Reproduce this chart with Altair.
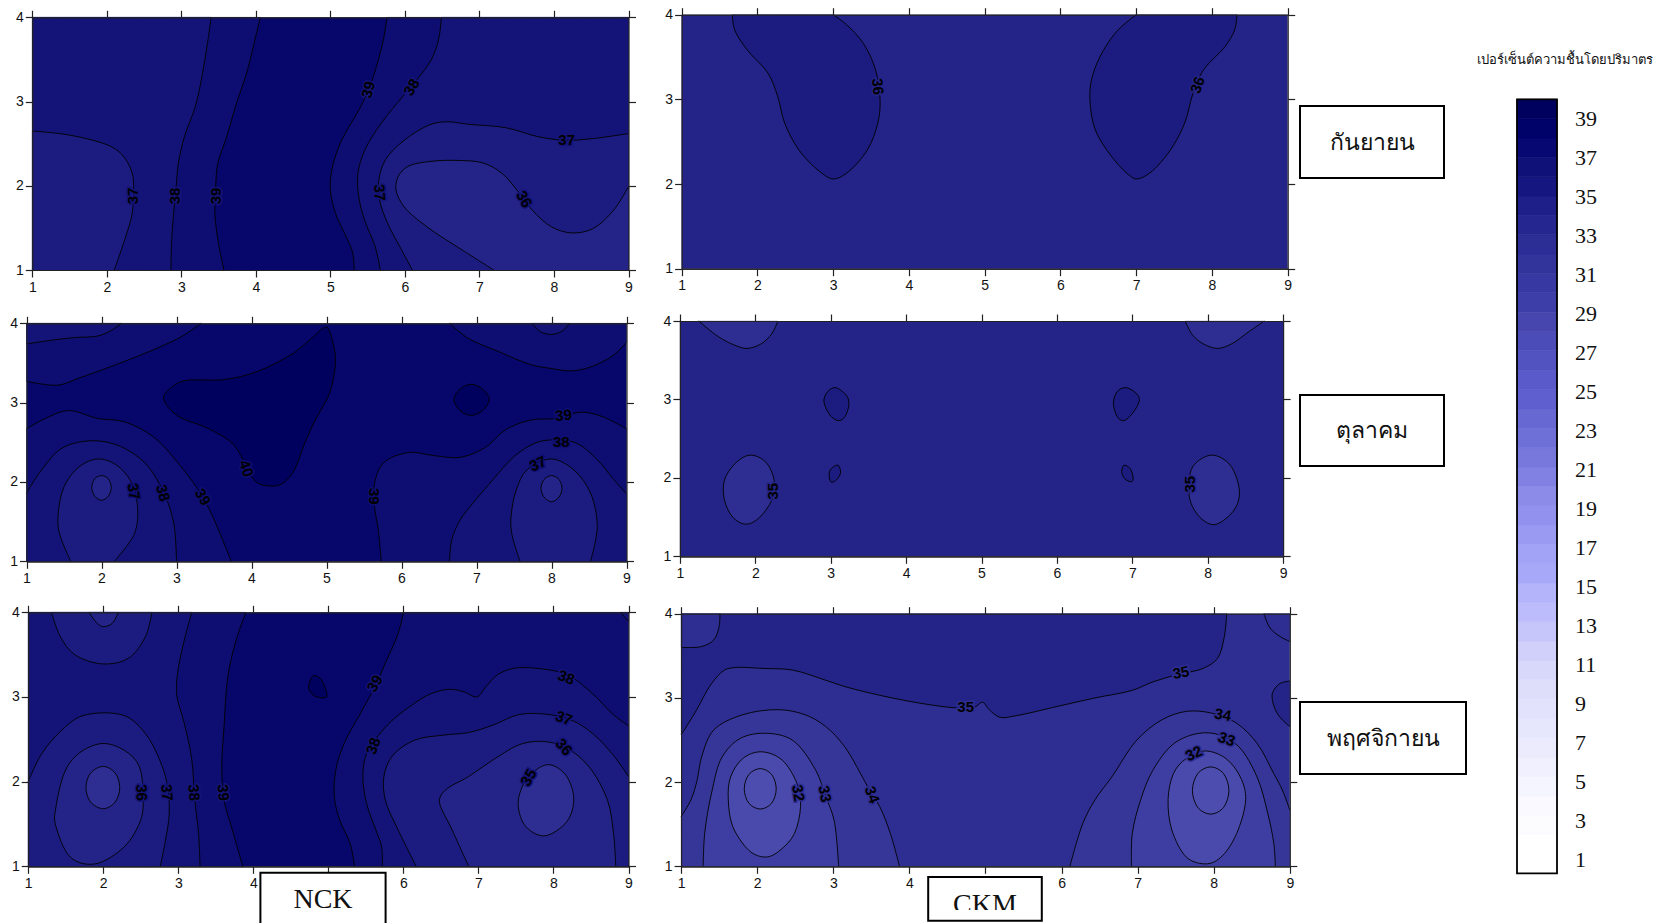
import altair as alt
import pandas as pd

W, H = 1645, 911
OX, OY = 8, 12  # page margin, plus 4px of top padding

# level colours
C40, C39, C38, C37, C36, C35, C34, C33, C32, C31 = (
    "#00005f", "#06066b", "#0e0e72", "#141478", "#1b1b80",
    "#242488", "#2d2d92", "#363699", "#3e3ea2", "#4a4aac")

X_TICKS = [1, 2, 3, 4, 5, 6, 7, 8, 9]
Y_TICKS = [1, 2, 3, 4]

# panel frames in page pixels: left, right, top, bottom
FRAMES = [(32.3, 628.5, 17.3, 270), (26.5, 626.5, 323.3, 561.3), (28.2, 628.5, 612.3, 866.3),
          (681.6, 1287.7, 14.7, 268.7), (679.9, 1283.1, 321, 556.3), (681.1, 1289.8, 613.7, 866.3)]
BASES = [C39, C39, C39, C35, C35, C34]

# region = (colour, corners that close it, contour points); corners "closed" = ring
P1 = [
 (C38, [(1, 1), (1, 4)], [(4.06, 4), (3.97, 3.67), (3.88, 3.35), (3.74, 2.98), (3.6, 2.56), (3.49, 2.27), (3.46, 1.99), (3.45, 1.67), (3.49, 1.36), (3.57, 1)]),
 (C37, [(1, 1), (1, 4)], [(3.4, 4), (3.35, 3.69), (3.26, 3.22), (3.18, 2.92), (3.04, 2.58), (2.96, 2.27), (2.93, 1.99), (2.9, 1.71), (2.87, 1.36), (2.86, 1)]),
 (C36, [(1, 1)], [(1, 2.65), (1.51, 2.6), (2.07, 2.46), (2.24, 2.33), (2.34, 2.15), (2.36, 1.99), (2.34, 1.67), (2.24, 1.36), (2.1, 1)]),
 (C38, [(9, 1), (9, 4)], [(5.76, 4), (5.71, 3.73), (5.57, 3.28), (5.43, 2.98), (5.13, 2.5), (5.02, 2.19), (5, 1.95), (5.07, 1.67), (5.23, 1.36), (5.3, 1.2), (5.32, 1)]),
 (C37, [(9, 1), (9, 4)], [(6.49, 4), (6.45, 3.73), (6.35, 3.49), (6.16, 3.26), (5.99, 3.08), (5.68, 2.74), (5.46, 2.42), (5.37, 2.15), (5.38, 1.87), (5.46, 1.59), (5.6, 1.28), (5.67, 1)]),
 (C36, [(9, 1)], [(9, 2.62), (8.52, 2.56), (8.16, 2.54), (7.8, 2.58), (7.35, 2.69), (6.85, 2.73), (6.57, 2.76), (6.35, 2.73), (5.99, 2.54), (5.74, 2.31), (5.65, 2.07), (5.66, 1.83), (5.77, 1.55), (5.93, 1.28), (6.1, 1)]),
 (C35, [(9, 1)], [(7.19, 1), (6.8, 1.22), (6.3, 1.51), (5.99, 1.75), (5.88, 1.95), (5.91, 2.11), (6.04, 2.23), (6.35, 2.29), (6.74, 2.3), (7.05, 2.27), (7.3, 2.15), (7.52, 1.93), (7.71, 1.71), (7.97, 1.51), (8.24, 1.44), (8.52, 1.49), (8.8, 1.71), (9, 1.99)]),
]
P2 = [
 (C38, [(1, 4)], [(1, 3.27), (1.42, 3.22), (1.7, 3.31), (2.14, 3.46), (2.75, 3.69), (3.08, 3.84), (3.33, 4)]),
 (C37, [(1, 4)], [(1, 3.74), (1.36, 3.79), (1.64, 3.82), (1.95, 3.84), (2.11, 3.9), (2.27, 4)]),
 (C38, [(9, 4)], [(6.64, 4), (6.89, 3.81), (7.28, 3.65), (7.72, 3.48), (8, 3.43), (8.27, 3.4), (8.55, 3.46), (8.83, 3.6), (9, 3.76)]),
 (C37, [], [(7.74, 4), (7.86, 3.89), (8, 3.86), (8.14, 3.9), (8.24, 4)]),
 (C38, [(1, 1)], [(1, 2.67), (1.25, 2.8), (1.56, 2.9), (1.95, 2.8), (2.3, 2.76), (2.69, 2.57), (3.02, 2.24), (3.29, 1.9), (3.44, 1.65), (3.58, 1.35), (3.73, 1)]),
 (C37, [(1, 1)], [(1, 1.86), (1.2, 2.15), (1.48, 2.43), (1.89, 2.52), (2.25, 2.45), (2.58, 2.24), (2.77, 1.98), (2.89, 1.73), (2.97, 1.44), (3, 1)]),
 (C36, [], [(1.59, 1), (1.44, 1.35), (1.42, 1.56), (1.5, 1.94), (1.7, 2.19), (1.95, 2.29), (2.19, 2.22), (2.39, 2.01), (2.48, 1.69), (2.44, 1.35), (2.17, 1)]),
 (C35, "closed", [(2, 2.08), (2.09, 2.04), (2.13, 1.93), (2.09, 1.82), (2, 1.77), (1.91, 1.82), (1.87, 1.93), (1.91, 2.04)]),
 (C38, [(9, 1)], [(5.73, 1), (5.69, 1.4), (5.64, 1.69), (5.64, 1.98), (5.76, 2.24), (6.09, 2.37), (6.45, 2.33), (6.78, 2.31), (7.11, 2.43), (7.39, 2.66), (7.72, 2.78), (8.05, 2.8), (8.39, 2.88), (8.66, 2.83), (9, 2.67)]),
 (C37, [(9, 1)], [(6.64, 1), (6.67, 1.27), (6.78, 1.52), (6.95, 1.73), (7.22, 2.03), (7.5, 2.32), (7.78, 2.49), (8, 2.53), (8.33, 2.49), (8.61, 2.28), (8.83, 2.03), (9, 1.85)]),
 (C36, [], [(7.58, 1), (7.47, 1.35), (7.46, 1.56), (7.53, 1.9), (7.67, 2.15), (8, 2.29), (8.3, 2.15), (8.52, 1.86), (8.61, 1.44), (8.52, 1)]),
 (C35, "closed", [(8, 2.08), (8.1, 2.03), (8.14, 1.92), (8.1, 1.81), (8, 1.75), (7.9, 1.81), (7.86, 1.92), (7.9, 2.03)]),
 (C40, "closed", [(4.96, 3.94), (5.04, 3.9), (5.12, 3.54), (5.04, 3.12), (4.85, 2.78), (4.71, 2.49), (4.57, 2.15), (4.41, 1.98), (4.24, 1.95), (4.05, 2.01), (3.91, 2.24), (3.74, 2.49), (3.41, 2.68), (3.02, 2.83), (2.83, 3.04), (2.92, 3.18), (3.13, 3.28), (3.63, 3.29), (4.07, 3.39), (4.52, 3.6), (4.8, 3.81)]),
 (C40, "closed", [(6.93, 3.23), (7.08, 3.17), (7.17, 3.04), (7.08, 2.9), (6.93, 2.84), (6.78, 2.9), (6.7, 3.04), (6.78, 3.17)]),
]
P3 = [
 (C38, [(1, 1), (1, 4)], [(3.9, 4), (3.77, 3.67), (3.66, 3.24), (3.61, 2.65), (3.58, 2.18), (3.61, 1.78), (3.72, 1.43), (3.86, 1)]),
 (C37, [(1, 1), (1, 4)], [(3.18, 4), (3.08, 3.67), (2.99, 3.28), (2.98, 3.02), (3.08, 2.69), (3.18, 2.26), (3.22, 1.78), (3.27, 1.39), (3.29, 1)]),
 (C36, [(1, 1)], [(1, 2), (1.18, 2.33), (1.45, 2.61), (1.73, 2.78), (2.28, 2.78), (2.56, 2.57), (2.75, 2.26), (2.85, 1.98), (2.88, 1.63), (2.83, 1.31), (2.76, 1)]),
 (C36, [], [(1.31, 4), (1.43, 3.71), (1.62, 3.5), (2, 3.39), (2.34, 3.46), (2.56, 3.71), (2.65, 4)]),
 (C35, [], [(1.81, 4), (1.92, 3.87), (2, 3.83), (2.12, 3.87), (2.2, 4)]),
 (C35, "closed", [(1.98, 2.45), (2.28, 2.37), (2.48, 2.18), (2.53, 1.86), (2.5, 1.55), (2.28, 1.23), (1.9, 1.03), (1.56, 1.11), (1.37, 1.47), (1.37, 1.7), (1.48, 2.1), (1.67, 2.33)]),
 (C34, "closed", [(2, 2.18), (2.16, 2.1), (2.22, 1.93), (2.16, 1.76), (2, 1.68), (1.83, 1.76), (1.77, 1.93), (1.83, 2.1)]),
 (C40, "closed", [(4.8, 3.25), (4.91, 3.2), (4.98, 3.01), (4.85, 3), (4.76, 3.06), (4.74, 3.14)]),
 (C38, [(9, 1), (9, 4)], [(6, 4), (5.93, 3.75), (5.76, 3.4), (5.62, 3.12), (5.43, 2.81), (5.21, 2.45), (5.1, 2.14), (5.08, 1.82), (5.15, 1.55), (5.29, 1.27), (5.35, 1)]),
 (C37, [(9, 1)], [(9, 2.66), (8.8, 2.79), (8.52, 3.04), (8.19, 3.26), (7.86, 3.33), (7.48, 3.34), (7.25, 3.26), (7.09, 3.11), (6.98, 3), (6.81, 3.06), (6.62, 3.09), (6.37, 3.04), (6.09, 2.89), (5.79, 2.67), (5.51, 2.33), (5.46, 2.06), (5.51, 1.74), (5.65, 1.39), (5.71, 1.23), (5.72, 1)]),
 (C36, [(9, 1)], [(6.17, 1), (5.93, 1.43), (5.76, 1.78), (5.74, 2.06), (5.85, 2.3), (6.15, 2.49), (6.54, 2.55), (6.87, 2.58), (7.2, 2.67), (7.53, 2.79), (7.86, 2.8), (8.23, 2.73), (8.52, 2.57), (8.8, 2.31), (9, 2.06)]),
 (C35, [], [(6.87, 1), (6.65, 1.43), (6.48, 1.78), (6.56, 1.9), (6.87, 2.06), (7.2, 2.26), (7.59, 2.45), (7.92, 2.47), (8.19, 2.39), (8.47, 2.18), (8.72, 1.78), (8.8, 1.39), (8.83, 1)]),
 (C34, "closed", [(7.95, 2.2), (8.17, 2.07), (8.27, 1.8), (8.18, 1.53), (7.89, 1.36), (7.63, 1.47), (7.53, 1.72), (7.59, 1.95), (7.74, 2.12)]),
 (C37, [(9, 4)], [(8.9, 4), (8.95, 3.94), (9, 3.9)]),
]
P4 = [
 (C36, [], [(1.67, 4), (1.7, 3.82), (1.87, 3.58), (2.14, 3.31), (2.27, 3.03), (2.36, 2.72), (2.55, 2.4), (2.82, 2.15), (3, 2.06), (3.18, 2.13), (3.45, 2.4), (3.59, 2.72), (3.62, 2.99), (3.56, 3.35), (3.4, 3.66), (3.18, 3.88), (3, 4)]),
 (C36, [], [(7, 4), (6.74, 3.8), (6.52, 3.5), (6.41, 3.23), (6.39, 2.99), (6.46, 2.64), (6.68, 2.32), (6.9, 2.11), (7, 2.06), (7.18, 2.13), (7.45, 2.4), (7.64, 2.72), (7.75, 3.07), (7.89, 3.35), (8.17, 3.62), (8.3, 3.82), (8.33, 4)]),
]
P5 = [
 (C34, [], [(1.25, 4), (1.51, 3.8), (1.73, 3.69), (1.89, 3.65), (2.08, 3.71), (2.22, 3.84), (2.3, 4)]),
 (C34, [], [(7.7, 4), (7.8, 3.82), (7.94, 3.71), (8.13, 3.65), (8.32, 3.71), (8.54, 3.86), (8.75, 4)]),
 (C34, "closed", [(1.93, 2.29), (2.14, 2.2), (2.25, 1.97), (2.22, 1.72), (2.06, 1.5), (1.88, 1.41), (1.7, 1.5), (1.59, 1.72), (1.59, 1.97), (1.73, 2.18)]),
 (C34, "closed", [(8.05, 2.29), (8.3, 2.16), (8.42, 1.84), (8.35, 1.59), (8.12, 1.41), (7.94, 1.46), (7.8, 1.63), (7.75, 1.84), (7.8, 2.14)]),
 (C36, "closed", [(3.07, 3.15), (3.21, 3.05), (3.24, 2.93), (3.19, 2.78), (3.1, 2.73), (2.99, 2.8), (2.91, 2.97), (2.96, 3.1)]),
 (C36, "closed", [(6.92, 3.15), (7.06, 3.07), (7.09, 2.97), (7, 2.82), (6.89, 2.73), (6.8, 2.78), (6.75, 2.95), (6.8, 3.1)]),
 (C36, "closed", [(3.1, 2.16), (3.13, 2.06), (3.07, 1.97), (3, 1.95), (2.98, 2.06), (3.02, 2.13)]),
 (C36, "closed", [(6.89, 2.16), (6.97, 2.12), (7.01, 2.01), (6.99, 1.95), (6.9, 1.99), (6.86, 2.08)]),
]
P6 = [
 (C35, [(1, 4)], [(1, 2.56), (1.18, 2.82), (1.4, 3.17), (1.57, 3.33), (1.7, 3.36), (2.08, 3.35), (2.47, 3.33), (2.9, 3.21), (3.17, 3.13), (3.72, 3.01), (4.26, 2.92), (4.65, 2.88), (4.86, 2.89), (4.96, 2.95), (5.05, 2.86), (5.19, 2.77), (5.41, 2.79), (5.95, 2.9), (6.44, 3), (6.93, 3.09), (7.2, 3.19), (7.53, 3.28), (7.86, 3.35), (8.05, 3.47), (8.14, 3.73), (8.17, 4)]),
 (C34, [(1, 4)], [(1, 3.6), (1.27, 3.61), (1.43, 3.69), (1.5, 3.85), (1.51, 4)]),
 (C34, [(9, 4)], [(8.66, 4), (8.74, 3.83), (8.87, 3.73), (9, 3.67)]),
 (C35, [], [(9, 3.2), (8.87, 3.17), (8.77, 3.05), (8.81, 2.86), (8.89, 2.75), (9, 2.66)]),
 (C33, [(1, 1)], [(1, 1.59), (1.13, 1.79), (1.21, 2.02), (1.27, 2.3), (1.43, 2.62), (1.81, 2.8), (2.28, 2.86), (2.63, 2.8), (2.9, 2.66), (3.15, 2.42), (3.45, 1.95), (3.61, 1.71), (3.75, 1.39), (3.87, 1)]),
 (C32, [], [(1.29, 1), (1.31, 1.39), (1.4, 1.87), (1.54, 2.3), (1.78, 2.52), (2.11, 2.58), (2.46, 2.5), (2.77, 2.14), (2.9, 1.83), (3.01, 1.55), (3.07, 1)]),
 (C31, "closed", [(2.06, 2.36), (2.33, 2.26), (2.52, 1.99), (2.57, 1.71), (2.49, 1.39), (2.3, 1.19), (2.11, 1.11), (1.89, 1.19), (1.68, 1.47), (1.62, 1.79), (1.65, 2.06), (1.81, 2.28)]),
 ("#4d4db0", "closed", [(2.04, 2.16), (2.19, 2.09), (2.25, 1.92), (2.19, 1.75), (2.04, 1.68), (1.89, 1.75), (1.83, 1.92), (1.89, 2.09)]),
 (C33, [(9, 1)], [(6.11, 1), (6.28, 1.51), (6.44, 1.79), (6.66, 2.06), (6.99, 2.5), (7.32, 2.74), (7.64, 2.84), (7.97, 2.82), (8.3, 2.7), (8.57, 2.46), (8.79, 2.1), (8.9, 1.91), (9, 1.67)]),
 (C32, [], [(6.92, 1), (6.93, 1.39), (7.04, 1.79), (7.2, 2.14), (7.48, 2.46), (7.81, 2.58), (8.08, 2.56), (8.33, 2.42), (8.57, 2.06), (8.71, 1.63), (8.79, 1.27), (8.81, 1)]),
 (C31, "closed", [(7.89, 2.37), (8.16, 2.28), (8.35, 2.06), (8.42, 1.79), (8.32, 1.43), (8.14, 1.15), (7.92, 1.03), (7.64, 1.11), (7.45, 1.43), (7.4, 1.79), (7.47, 2.1), (7.64, 2.28)]),
 ("#4d4db0", "closed", [(7.96, 2.18), (8.13, 2.1), (8.2, 1.9), (8.13, 1.7), (7.96, 1.62), (7.79, 1.7), (7.72, 1.9), (7.79, 2.1)]),
]
PANELS = [P1, P2, P3, P4, P5, P6]

# contour labels: x, y, text, angle
L1 = [(2.35, 1.88, "37", 270), (2.92, 1.88, "38", 270), (3.46, 1.88, "39", 270), (5.66, 1.92, "37", 85), (7.6, 1.84, "36", 60), (8.17, 2.54, "37", 0), (5.51, 3.14, "39", 285), (6.09, 3.17, "38", 300)]
L2 = [(2.43, 1.88, "37", 80), (2.82, 1.86, "38", 75), (3.35, 1.81, "39", 60), (3.93, 2.17, "40", 70), (5.63, 1.82, "39", 90), (8.16, 2.84, "39", 355), (8.13, 2.51, "38", 0), (7.82, 2.23, "37", 335)]
L3 = [(2.51, 1.87, "36", 88), (2.85, 1.87, "37", 85), (3.21, 1.87, "38", 85), (3.6, 1.87, "39", 85), (5.62, 3.16, "39", 300), (5.6, 2.42, "38", 290), (7.67, 2.05, "35", 300), (8.14, 2.41, "36", 50), (8.14, 2.75, "37", 20), (8.17, 3.23, "38", 20)]
L4 = [(3.59, 3.15, "36", 85), (7.81, 3.17, "36", 290)]
L5 = [(2.23, 1.83, "35", 270), (7.76, 1.92, "35", 270)]
L6 = [(2.54, 1.87, "32", 80), (2.89, 1.86, "33", 80), (3.51, 1.85, "34", 70), (4.74, 2.89, "35", 0), (7.57, 3.3, "35", 350), (8.12, 2.8, "34", 10), (8.17, 2.51, "33", 20), (7.74, 2.34, "32", 335)]
LABELS = [L1, L2, L3, L4, L5, L6]
HALOS = [C37, C38, C37, C35, C35, C34]

# legend
LEGEND_BANDS = list(range(40))
LEGEND_COLOURS = ["#ffffff", "#ffffff", "#fcfcff", "#f9f9ff", "#f5f5ff", "#f0f0fe", "#ebebfd", "#e6e6fd", "#e2e2fd", "#dedefb",
                  "#d8d8fb", "#d0d0fa", "#c6c6fa", "#bcbcfc", "#b4b4fb", "#a8a8f8", "#a2a2f6", "#9a9af2", "#9292ee", "#8c8ce8",
                  "#8181e4", "#7777dc", "#6f6fd8", "#6868d2", "#5f5fd0", "#5a5aca", "#5252c0", "#4c4cb8", "#4646ae", "#3e3ea8",
                  "#3838a2", "#33339c", "#2d2d96", "#262690", "#1f1f8a", "#161680", "#101079", "#080873", "#01016a", "#00005e"]
LEGEND_LABELS = [1, 3, 5, 7, 9, 11, 13, 15, 17, 19, 21, 23, 25, 27, 29, 31, 33, 35, 37, 39]
LEGEND_TITLE = "เปอร์เซ็นต์ความชื้นโดยปริมาตร"

# annotation boxes: text, left, right, top, bottom, text y, font size
BOXES = [("กันยายน", 1300, 1444, 106, 178, 143, 23),
         ("ตุลาคม", 1300, 1444, 395, 466, 431, 23),
         ("พฤศจิกายน", 1300, 1466, 702, 774, 739, 23),
         ("NCK", 260.4, 385.6, 872.7, 924, 900, 28),
         ("CKM", 928.2, 1041.8, 877, 920.7, 905, 28)]
# the CKM word is cut off along this band in the source
CKM_CUT = (932, 1038, 910, 919)

TICK_FONT = "Liberation Sans"
ONE = alt.Data(values=[{"k": 1}])


def px(v):
    return alt.value(v - OX)


def py(v):
    return alt.value(v - OY)


def panel(i):
    left, right, top, bottom = FRAMES[i]
    sx = alt.Scale(domain=[1, 9], range=[left - OX, right - OX], nice=False, zero=False)
    sy = alt.Scale(domain=[1, 4], range=[bottom - OY, top - OY], nice=False, zero=False)
    style = dict(tickColor="#222222", domainColor="#222222", tickSize=7, tickWidth=1.2, domainWidth=1.2,
                 grid=False, title=None, zindex=1, labelFont=TICK_FONT, labelFontSize=14, labelFlush=False,
                 labelColor="#111111", labelOverlap=False, format="d")
    bottom_style = {**style, "zindex": 0}
    xa = alt.Axis(orient="bottom", offset=bottom - OY - H, values=X_TICKS, labelPadding=3, **bottom_style)
    ya = alt.Axis(orient="left", offset=-(left - OX), values=Y_TICKS, labelPadding=2, **style)
    xb = alt.Axis(orient="top", offset=-(top - OY), values=X_TICKS, labels=False, **style)
    yb = alt.Axis(orient="right", offset=right - OX - W, values=Y_TICKS, labels=False, **style)
    # bottom frame line drawn over the fills; the labelled axis stays behind the boxes
    xc = alt.Axis(orient="bottom", offset=bottom - OY - H, values=X_TICKS, labels=False, ticks=False, **style)

    frame = pd.DataFrame({"x": [1], "x2": [9], "y": [1], "y2": [4]})
    layers = [alt.Chart(frame).mark_rect(color=BASES[i]).encode(
        x=alt.X("x:Q", scale=sx, axis=xa), x2="x2:Q",
        y=alt.Y("y:Q", scale=sy, axis=ya), y2="y2:Q"),
        alt.Chart(frame).mark_rect(opacity=0).encode(
        x=alt.X("x:Q", scale=sx, axis=xb), x2="x2:Q",
        y=alt.Y("y:Q", scale=sy, axis=yb), y2="y2:Q"),
        alt.Chart(frame).mark_rect(opacity=0).encode(
        x=alt.X("x:Q", scale=sx, axis=xc), x2="x2:Q",
        y=alt.Y("y:Q", scale=sy, axis=None), y2="y2:Q")]

    for colour, corners, pts in PANELS[i]:
        closed = corners == "closed"
        if closed:
            poly = list(pts)
        else:
            poly = [pts[0]] + list(pts) + [pts[-1]]
            for c in corners:
                poly += [c, c]
            poly += [pts[0]]
        fill_df = pd.DataFrame({"x": [p[0] for p in poly], "y": [p[1] for p in poly], "i": range(len(poly))})
        line_df = pd.DataFrame({"x": [p[0] for p in pts], "y": [p[1] for p in pts], "i": range(len(pts))})
        curve = "cardinal-closed" if closed else "catmull-rom"
        extra = {"tension": 0} if closed else {}
        enc = dict(x=alt.X("x:Q", scale=sx, axis=None), y=alt.Y("y:Q", scale=sy, axis=None), order="i:Q")
        layers.append(alt.Chart(fill_df).mark_line(interpolate=curve, filled=True, fill=colour, stroke=colour,
                                                   strokeWidth=0.3, **extra).encode(**enc))
        layers.append(alt.Chart(line_df).mark_line(interpolate=curve, stroke="#000000", strokeWidth=0.9,
                                                   **extra).encode(**enc))

    lab = pd.DataFrame(LABELS[i], columns=["x", "y", "t", "a"])
    enc = dict(x=alt.X("x:Q", scale=sx, axis=None), y=alt.Y("y:Q", scale=sy, axis=None),
               text="t:N", angle=alt.Angle("a:Q", scale=None))
    layers.append(alt.Chart(lab).mark_text(font="Liberation Sans", fontWeight="bold", fontSize=15, color=HALOS[i],
                                           stroke=HALOS[i], strokeWidth=3).encode(**enc))
    layers.append(alt.Chart(lab).mark_text(font="Liberation Sans", fontWeight="bold", fontSize=15,
                                           color="#000000").encode(**enc))
    return alt.layer(*layers).resolve_axis(x="independent", y="independent")


def legend():
    bands = pd.DataFrame({"lo": LEGEND_BANDS, "hi": [b + 1 for b in LEGEND_BANDS], "c": LEGEND_COLOURS})
    sy = alt.Scale(domain=[0, 40], range=[873.3 - OY, 99.3 - OY], nice=False, zero=False)
    rects = alt.Chart(bands).mark_rect(strokeWidth=0.6).encode(
        x=px(1517), x2=px(1557),
        y=alt.Y("lo:Q", scale=sy, axis=None), y2="hi:Q",
        fill=alt.Fill("c:N", scale=None), stroke=alt.Stroke("c:N", scale=None))
    border = alt.Chart(ONE).mark_rect(fill=None, stroke="#000000", strokeWidth=1.8).encode(
        x=px(1517), x2=px(1557), y=py(99.3), y2=py(873.3))
    ly = alt.Scale(domain=[1, 39], range=[860 - OY, 119.3 - OY], nice=False, zero=False)
    labs = alt.Chart(pd.DataFrame({"v": LEGEND_LABELS})).mark_text(
        font="Liberation Serif", fontSize=22, align="left", baseline="middle", color="#111111").encode(
        x=px(1575), y=alt.Y("v:Q", scale=ly, axis=None), text="v:N")
    title = alt.Chart(ONE).mark_text(font="Liberation Serif", fontSize=13, align="center", color="#111111").encode(
        x=px(1565), y=py(60), text=alt.value(LEGEND_TITLE))
    return [rects, border, labs, title]


def box(t, l, r, a, b, ty, fs):
    bx = alt.Chart(ONE).mark_rect(fill="#ffffff", stroke="#000000", strokeWidth=2).encode(
        x=px(l), x2=px(r), y=py(a), y2=py(b))
    tx = alt.Chart(ONE).mark_text(font="Liberation Serif", fontSize=fs, align="center", baseline="middle",
                                  color="#111111").encode(x=px((l + r) / 2), y=py(ty), text=alt.value(t))
    return [bx, tx]


parts = [panel(i) for i in range(6)] + legend()
for b in BOXES:
    parts += box(*b)
parts.append(alt.Chart(ONE).mark_rect(fill="#ffffff").encode(
    x=px(CKM_CUT[0]), x2=px(CKM_CUT[1]), y=py(CKM_CUT[2]), y2=py(CKM_CUT[3])))

chart = alt.layer(*parts).resolve_scale(x="independent", y="independent").properties(
    width=W, height=H, padding={"left": 0, "top": 4, "right": 0, "bottom": 0}, background="#ffffff",
    autosize=alt.AutoSizeParams(type="none")
).configure_view(stroke=None)

chart.save("out.html", embed_options={"renderer": "svg", "actions": False})
